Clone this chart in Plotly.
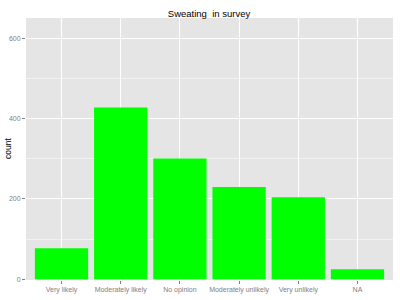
import plotly.graph_objects as go

categories = ["Very likely", "Moderately likely", "No opinion", "Moderately unlikely", "Very unlikely", "NA"]
counts = [77, 428, 301, 230, 204, 25]
y_ticks = [0, 200, 400, 600]

fig = go.Figure(go.Bar(
    x=categories, y=counts, width=0.9,
    marker=dict(color="#00FF00", line=dict(width=0)),
))

fig.update_layout(
    width=400, height=300,
    margin=dict(l=26, r=7, t=18, b=20, autoexpand=False),
    paper_bgcolor="white", plot_bgcolor="#E5E5E5",
    font=dict(family="Liberation Sans, Arial, sans-serif"),
    title=dict(text="Sweating  in survey", x=0.5225, xanchor="center", y=0.955, yanchor="middle",
               font=dict(size=9.5, color="black")),
    showlegend=False, bargap=0.1,
    annotations=[dict(text="count", xref="paper", yref="paper", x=-0.049, y=0.5,
                      xanchor="center", yanchor="middle", textangle=-90, showarrow=False,
                      font=dict(size=8.5, color="black"))],
)
fig.update_xaxes(
    range=[-0.6, 5.6], showgrid=True, gridcolor="white", gridwidth=1, automargin=False,
    ticks="outside", ticklen=3, tickcolor="#808080",
    tickfont=dict(size=7, color="#808080"), zeroline=False, showline=False,
)
fig.update_yaxes(
    range=[-2, 651], tickvals=y_ticks, showgrid=True, gridcolor="white", gridwidth=1, automargin=False,
    minor=dict(tickvals=[100, 300, 500], showgrid=True, gridcolor="#F2F2F2", gridwidth=0.6, ticks=""),
    ticks="outside", ticklen=3, tickcolor="#808080",
    tickfont=dict(size=7, color="#808080"), zeroline=False, showline=False,
)

fig.write_html("out.html")
